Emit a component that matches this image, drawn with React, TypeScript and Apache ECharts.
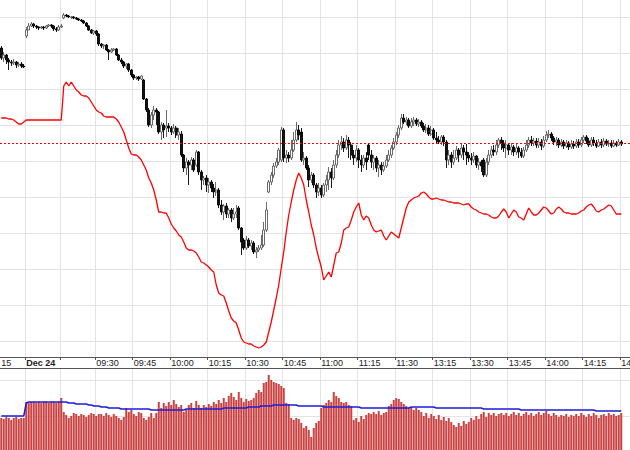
import React, { useEffect, useRef } from "react";
import * as echarts from "echarts";

// ---- categories (1-minute bars) ----
const N_BARS = 252;
const SESSIONS = [
  { start: 0, hh: 14, mm: 50 },
  { start: 10, hh: 9, mm: 0 },
  { start: 24, hh: 9, mm: 15 },
  { start: 38, hh: 9, mm: 30 },
  { start: 158, hh: 13, mm: 0 },
];
const CATEGORIES: string[] = [];
for (let j = 0; j < N_BARS; j++) {
  let s = SESSIONS[0];
  for (const ss of SESSIONS) if (j >= ss.start) s = ss;
  const total = s.hh * 60 + s.mm + (j - s.start);
  const h = Math.floor(total / 60);
  const m = total % 60;
  CATEGORIES.push(`${String(h).padStart(2, "0")}:${String(m).padStart(2, "0")}`);
}

// ---- tick labels / grid positions (category indexes) ----
const GRID_INDEX = [10, 24, 38, 53, 68, 83, 98, 113, 128, 143, 158, 173, 188, 203, 218, 233, 248];
const LABEL_INDEX = [0, 10, 38, 53, 68, 83, 98, 113, 128, 143, 158, 173, 188, 203, 218, 233, 248];
const LABEL_TEXT = ["15", "Dec 24", "09:30", "09:45", "10:00", "10:15", "10:30", "10:45", "11:00", "11:15", "11:30", "13:15", "13:30", "13:45", "14:00", "14:15", "14"];

const PREV_CLOSE = 234;

// ---- price candles: [open, close, low, high] ----
const CANDLES = [
  [329,319,317,331],[319,322,315,325],[322,317,313,323],[317,315,307,319],[315,314,311,317],[314,315,312,318],[315,312,309,316],[312,313,310,315],[313,311,309,315],[311,310,309,313],
  [341,347,339,350],[347,351,347,354],[351,353,350,355],[353,351,349,354],[351,350,348,352],[350,349,347,351],[349,350,348,351],[350,349,347,351],[349,351,348,352],[351,352,350,353],
  [352,351,349,353],[351,348,346,352],[348,347,345,350],[347,350,346,352],[350,351,349,353],[359,362,358,364],[362,361,360,363],[361,360,359,362],[360,360,358,361],[360,359,358,361],
  [359,358,357,360],[358,357,356,359],[357,356,355,358],[356,354,353,357],[354,351,350,355],[351,347,346,352],[347,344,343,348],[344,346,342,347],[346,343,341,347],[343,333,331,344],
  [333,331,329,334],[331,332,328,333],[332,327,326,333],[327,325,317,328],[325,327,324,329],[327,328,326,329],[328,322,321,329],[322,317,316,323],[317,315,313,319],[315,311,309,316],
  [311,313,308,314],[313,307,305,314],[307,302,300,308],[302,299,297,303],[299,300,297,301],[300,298,296,301],[298,301,297,302],[297,278,277,298],[278,267,265,279],[267,252,250,269],
  [252,262,249,265],[262,267,257,271],[267,265,252,269],[265,245,243,266],[245,252,237,255],[252,247,239,254],[249,251,240,267],[251,249,245,254],[249,245,242,251],[245,249,243,253],
  [249,242,239,251],[242,245,237,249],[243,222,220,246],[222,209,205,223],[209,215,202,219],[215,212,192,217],[212,217,207,220],[217,207,205,219],[212,225,210,227],[225,205,202,226],
  [205,197,187,207],[197,199,192,201],[199,192,185,202],[192,195,184,199],[195,189,185,197],[189,185,179,193],[185,187,181,195],[187,172,169,189],[172,165,162,177],[165,171,157,173],
  [171,163,159,174],[163,167,159,169],[167,159,155,169],[159,163,157,169],[163,165,159,172],[169,149,147,171],[149,135,122,150],[137,129,127,139],[129,137,127,141],[137,131,129,139],
  [131,134,127,137],[134,125,123,136],[125,127,119,130],[127,129,125,132],[129,132,127,142],[132,147,130,155],[147,167,145,175],[185,195,184,197],[195,202,192,205],[202,211,199,214],
  [211,215,209,219],[215,227,212,229],[217,247,215,250],[247,219,215,249],[219,222,214,227],[222,219,215,225],[219,227,217,237],[227,237,225,245],[237,247,235,255],[247,242,237,252],
  [245,217,215,249],[217,219,212,225],[219,209,207,221],[209,197,190,212],[197,202,194,205],[202,192,189,204],[192,185,179,194],[185,189,181,194],[189,182,179,192],[182,192,180,194],
  [192,197,185,202],[197,205,187,210],[205,199,189,209],[199,212,197,217],[212,222,209,227],[222,232,219,237],[232,235,227,241],[235,229,225,239],[229,237,227,242],[237,232,219,240],
  [232,222,217,235],[222,219,212,227],[219,227,215,232],[227,217,209,229],[217,212,205,222],[212,219,209,222],[219,215,207,225],[232,222,217,234],[222,215,209,227],[215,219,207,222],
  [219,209,205,221],[209,212,200,217],[212,207,202,215],[207,211,205,215],[211,217,209,222],[217,222,215,227],[222,229,219,232],[229,235,227,239],[235,242,232,245],[242,249,239,252],
  [249,259,247,263],[259,255,253,263],[255,257,252,260],[257,251,249,259],[251,255,249,259],[255,257,251,260],[257,253,251,259],[253,255,250,258],[255,251,249,257],[251,247,245,254],
  [247,249,244,253],[249,243,241,252],[243,247,241,251],[247,239,237,249],[239,237,234,245],[237,235,233,241],[235,240,232,242],[240,235,231,242],[235,217,209,237],[217,222,212,227],
  [222,215,209,225],[215,219,212,227],[219,227,217,231],[227,222,215,229],[222,229,219,234],[229,225,217,232],[225,222,212,233],[222,219,215,225],[219,217,212,224],[217,221,214,225],
  [221,212,209,222],[212,215,207,219],[215,211,205,217],[217,202,200,219],[202,215,200,219],[215,222,212,227],[222,227,219,231],[227,225,221,232],[225,232,222,237],[232,237,229,239],
  [237,234,227,240],[234,229,225,237],[229,232,219,237],[232,227,222,234],[227,230,222,234],[230,225,221,232],[225,229,222,233],[229,225,219,231],[225,221,219,229],[221,227,219,230],
  [227,232,225,237],[232,237,229,240],[237,234,231,241],[234,236,231,239],[236,232,229,239],[232,235,229,239],[235,231,227,238],[231,237,229,241],[237,242,235,246],[242,243,239,247],
  [243,239,236,245],[239,235,232,241],[235,237,231,240],[237,232,229,239],[232,235,230,238],[235,231,228,237],[231,234,229,237],[234,230,227,236],[230,233,228,237],[233,231,228,236],
  [231,235,229,238],[235,232,229,238],[232,237,230,240],[237,240,234,242],[240,236,233,242],[236,232,230,239],[232,237,230,240],[237,234,231,240],[234,231,229,237],[231,235,230,238],
  [235,232,229,238],[232,236,230,239],[236,233,231,238],[233,234,230,237],[234,231,229,237],[231,234,230,237],[234,232,230,236],[232,235,231,238],[235,233,231,237],
];

// ---- red indicator line ----
const INDICATOR = [
  259,259,259,258,258,257,255,253,253,255,
  257,257,257,257,257,257,257,257,257,257,257,257,257,257,257,
  291,295,291,295,291,287,285,282,281,281,279,275,271,267,265,
  264,261,260,260,260,260,258,255,250,245,
  237,229,223,222,222,220,217,212,207,199,
  194,187,177,165,165,164,164,159,153,
  149,146,142,140,135,129,127,127,126,124,
  120,115,114,112,110,107,105,92,84,82,
  81,74,66,59,56,54,47,39,35,34,
  33,33,31,30,29,30,32,35,45,55,
  67,79,92,109,125,145,162,175,187,197,
  204,199,192,177,165,152,142,129,119,110,
  97,101,105,100,112,124,125,134,147,149,
  150,157,165,170,174,162,157,161,159,152,
  147,145,146,147,141,137,141,145,143,141,
  139,149,159,169,175,177,179,180,181,184,
  185,183,180,178,178,179,178,177,177,176,
  175,175,174,174,174,173,172,173,173,
  170,168,167,165,164,163,163,162,160,159,
  159,161,165,168,165,159,163,167,165,160,
  159,157,163,169,165,162,162,164,167,170,
  169,166,163,164,168,170,168,165,164,164,
  163,163,163,164,166,167,170,172,173,170,
  166,165,167,168,170,172,171,167,163,163,163,
];

// ---- volume ----
const VOLUME = [
  70,69,71,70,68,70,71,69,70,70,
  86,85,86,86,85,86,85,86,86,85,86,86,85,86,90,
  76,73,70,72,75,74,72,74,73,71,73,75,74,72,74,
  74,72,75,73,71,74,72,70,68,71,80,76,78,74,72,76,75,70,68,71,75,
  70,75,
  86,80,85,82,86,83,88,84,81,83,76,78,83,85,80,87,83,
  80,83,81,84,82,86,84,88,85,90,86,92,95,91,88,96,90,86,89,87,
  88,90,95,98,96,105,106,113,108,106,105,104,102,100,85,
  84,70,68,70,69,65,60,62,58,51,60,65,67,80,83,
  85,88,86,96,92,90,86,85,86,83,82,68,70,66,72,
  69,73,75,74,76,74,77,73,75,76,82,84,88,90,89,
  86,84,82,80,81,78,80,78,76,72,75,70,74,72,69,
  73,68,71,67,70,66,63,61,65,62,67,64,
  66,70,
  68,72,69,74,76,71,75,73,75,72,74,75,73,75,72,
  74,76,73,75,72,74,76,73,75,72,74,76,73,75,77,
  74,72,75,73,71,73,72,74,71,73,72,74,72,75,73,
  71,74,72,75,73,70,73,74,72,75,73,74,72,73,75,
];

// ---- volume average (blue) ----
const VOLUME_AVG = [
  72,72,72,72,72,72,72,72,72,72,
  85,
  86,86,86,86,86,86,86,86,86,86,86,86,86,86,86,
  86,85,85,85,
  84,84,84,84,84,
  83,83,82,82,82,
  81,81,81,80,80,
  80,80,80,79,79,
  79,79,79,79,79,79,79,79,79,79,
  78,78,78,78,78,78,78,78,78,78,78,78,78,78,
  79,79,79,79,79,79,79,79,79,79,79,79,79,79,79,
  80,80,80,80,80,80,80,80,80,80,
  81,81,81,81,81,
  82,82,82,82,82,
  83,83,83,83,83,83,83,83,83,83,
  82,82,82,82,82,82,82,82,82,82,
  81,81,81,81,81,81,81,81,81,81,81,81,81,81,81,
  80,80,80,80,80,80,80,80,80,80,80,80,80,80,80,80,80,80,80,80,
  81,81,81,81,81,81,81,81,81,81,
  80,80,80,80,80,80,80,80,80,80,80,80,80,80,80,80,80,80,80,
  79,79,79,79,79,79,79,79,79,79,79,79,79,79,79,
  78,78,78,78,78,78,78,78,78,78,78,78,78,78,78,78,78,78,78,78,
  78,78,78,78,78,78,78,78,78,78,
  77,77,77,77,77,77,77,77,77,77,77,
];

const FONT = "'Liberation Sans', Arial, sans-serif";

export default function App() {
  const ref = useRef<HTMLDivElement>(null);
  useEffect(() => {
    if (!ref.current) return;
    const chart = echarts.init(ref.current, undefined, { renderer: "svg" });
    const labelMap = new Map<number, string>(LABEL_INDEX.map((idx, k) => [idx, LABEL_TEXT[k]]));
    const gridSet = new Set<number>(GRID_INDEX);
    const split = { color: "#e3e3e3", width: 1 };
    chart.setOption({
      animation: false,
      backgroundColor: "#ffffff",
      grid: [
        { left: 0, right: 0, top: 0, height: 357, outerBoundsMode: "none", containLabel: false },
        { left: 0, right: 0, top: 368, height: 82, outerBoundsMode: "none", containLabel: false },
      ],
      xAxis: [
        {
          type: "category",
          gridIndex: 0,
          data: CATEGORIES,
          boundaryGap: true,
          axisLine: { show: true, lineStyle: { color: "#555", width: 1 } },
          axisTick: {
            show: true,
            length: 3,
            interval: (i: number) => gridSet.has(i),
            lineStyle: { color: "#555" },
          },
          axisLabel: {
            show: true,
            interval: (i: number) => labelMap.has(i),
            formatter: (_v: string, i: number) => {
              const t = labelMap.get(i) ?? "";
              return t.startsWith("Dec") ? `{b|${t}}` : t;
            },
            align: "left",
            margin: 1,
            fontSize: 9,
            fontFamily: FONT,
            color: "#222",
            rich: { b: { fontWeight: "bold", fontSize: 9, fontFamily: FONT, color: "#222" } },
          },
          splitLine: { show: true, interval: (i: number) => gridSet.has(i), lineStyle: split },
        },
        {
          type: "category",
          gridIndex: 1,
          data: CATEGORIES,
          boundaryGap: true,
          position: "top",
          axisLine: { show: true, lineStyle: { color: "#555", width: 1 } },
          axisTick: { show: false },
          axisLabel: { show: false },
          splitLine: { show: true, interval: (i: number) => gridSet.has(i), lineStyle: split },
        },
      ],
      yAxis: [
        {
          type: "value",
          gridIndex: 0,
          min: 20,
          max: 377,
          minInterval: 36,
          maxInterval: 36,
          splitNumber: 10,
          axisLine: { show: false },
          axisTick: { show: false },
          axisLabel: { show: false },
          splitLine: { show: true, showMinLine: false, showMaxLine: false, lineStyle: split },
        },
        {
          type: "value",
          gridIndex: 1,
          min: 38,
          max: 120,
          minInterval: 36,
          maxInterval: 36,
          splitNumber: 2,
          axisLine: { show: false },
          axisTick: { show: false },
          axisLabel: { show: false },
          splitLine: { show: true, showMinLine: false, showMaxLine: false, lineStyle: split },
        },
      ],
      series: [
        {
          type: "candlestick",
          xAxisIndex: 0,
          yAxisIndex: 0,
          data: CANDLES,
          barWidth: 2.6,
          itemStyle: {
            color: "#ffffff",
            color0: "#111111",
            borderColor: "#5a5a5a",
            borderColor0: "#000000",
            borderWidth: 0.9,
          },
        },
        {
          type: "line",
          xAxisIndex: 0,
          yAxisIndex: 0,
          data: INDICATOR,
          symbol: "none",
          color: "#ff0000",
          lineStyle: { color: "#ff0000", width: 1.3 },
          markLine: {
            silent: true,
            symbol: "none",
            label: { show: false },
            lineStyle: { color: "#ff0000", type: [2, 2], width: 1 },
            data: [{ yAxis: PREV_CLOSE }],
          },
        },
        {
          type: "bar",
          xAxisIndex: 1,
          yAxisIndex: 1,
          data: VOLUME,
          barWidth: 2,
          clip: true,
          itemStyle: { color: "#cc4242" },
        },
        {
          type: "line",
          xAxisIndex: 1,
          yAxisIndex: 1,
          data: VOLUME_AVG,
          symbol: "none",
          lineStyle: { color: "#1c1cd8", width: 1.5 },
        },
      ],
    });
    return () => chart.dispose();
  }, []);
  return (
    <div
      ref={ref}
      style={{ position: "fixed", left: 0, top: 0, width: 630, height: 450, background: "#fff" }}
    />
  );
}
